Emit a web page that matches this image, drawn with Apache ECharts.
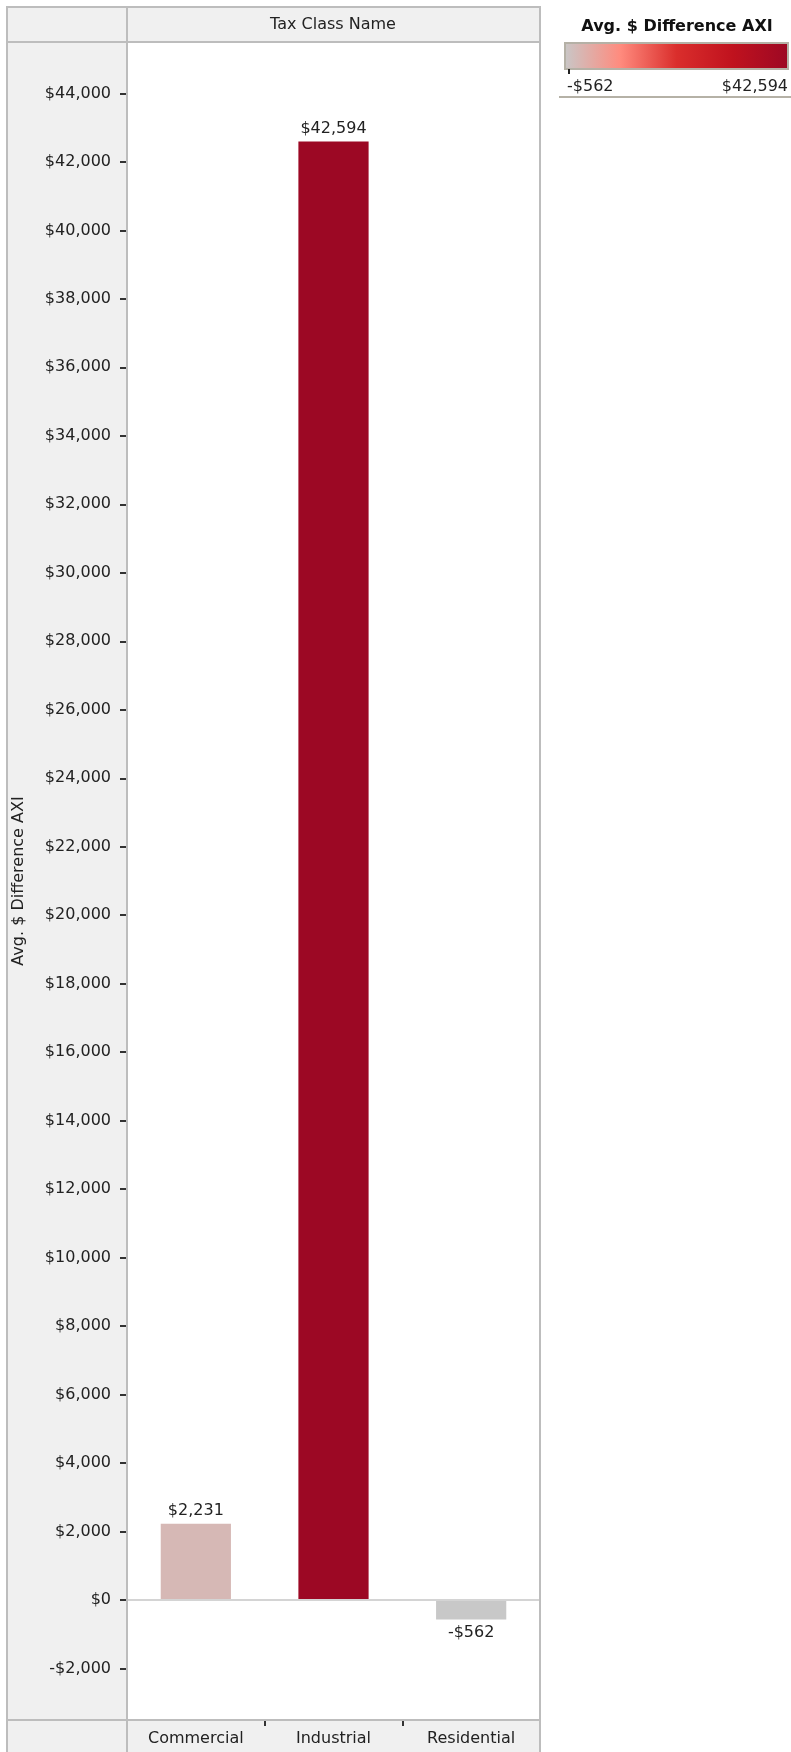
<!DOCTYPE html>
<html>
<head>
<meta charset="utf-8">
<script src="https://cdn.jsdelivr.net/npm/echarts@6/dist/echarts.min.js"></script>
<style>
  html, body { margin: 0; padding: 0; background: #fff; }
  #chart { width: 791px; height: 1752px; }
</style>
</head>
<body>
<div id="chart"></div>
<script>
var categories = ['Commercial', 'Industrial', 'Residential'];
var values = [2231, 42594, -562];
var yTicks = [-2000, 0, 2000, 4000, 6000, 8000, 10000, 12000, 14000, 16000, 18000, 20000,
    22000, 24000, 26000, 28000, 30000, 32000, 34000, 36000, 38000, 40000, 42000, 44000];
var colorStops = ['#c8c8c8', '#ff8b7e', '#da2e2c', '#c0121e', '#9c0824'];

var font = '"DejaVu Sans", sans-serif';
var textColor = '#222';
var borderColor = '#bdbdbd';

function money(v) {
    return (v < 0 ? '-' : '') + '$' + Math.abs(v).toLocaleString('en-US');
}

var minVal = Math.min.apply(null, values);
var maxVal = Math.max.apply(null, values);

// gradient for the colour legend, same stops as the visualMap
var gradStops = colorStops.map(function (c, i) {
    return { offset: i / (colorStops.length - 1), color: c };
});

// negative bars carry their label underneath
var barData = values.map(function (v) {
    return v < 0 ? { value: v, label: { position: 'bottom' } } : v;
});

var chart = echarts.init(document.getElementById('chart'));

var option = {
    animation: false,
    textStyle: { fontFamily: font },
    grid: { left: 127, right: 251, top: 42, bottom: 32 },
    visualMap: {
        show: false,
        type: 'continuous',
        seriesIndex: 0,
        dimension: 1,
        min: minVal,
        max: maxVal,
        inRange: { color: colorStops }
    },
    xAxis: {
        type: 'category',
        data: categories,
        axisLine: { onZero: false, lineStyle: { color: borderColor, width: 2 } },
        axisTick: { show: true, length: 6, lineStyle: { color: '#333', width: 2 } },
        axisLabel: { color: textColor, fontSize: 16, margin: 11 },
        splitLine: { show: false }
    },
    yAxis: {
        type: 'value',
        min: -3500,
        max: 45500,
        name: 'Avg. $ Difference AXI',
        nameLocation: 'middle',
        nameGap: 100,
        nameTextStyle: { color: textColor, fontSize: 16 },
        axisLine: { show: true, lineStyle: { color: borderColor, width: 2 } },
        axisTick: { show: true, length: 7, customValues: yTicks, lineStyle: { color: '#333', width: 2 } },
        axisLabel: { color: textColor, fontSize: 16, margin: 16, customValues: yTicks, formatter: money },
        splitLine: { show: false }
    },
    series: [{
        type: 'bar',
        data: barData,
        barWidth: '51%',
        label: {
            show: true,
            fontSize: 16,
            color: textColor,
            distance: 5,
            position: 'top',
            formatter: function (p) { return money(p.value); }
        },
        markLine: {
            silent: true,
            symbol: 'none',
            label: { show: false },
            lineStyle: { color: '#d4d4d4', width: 2, type: 'solid' },
            data: [{ yAxis: 0 }]
        }
    }],
    graphic: [
        // panel backgrounds
        { type: 'rect', z: -10, shape: { x: 7, y: 7, width: 533, height: 1760 },
          style: { fill: '#f0f0f0', stroke: borderColor, lineWidth: 2 } },
        { type: 'rect', z: -9, shape: { x: 127, y: 42, width: 413, height: 1678 },
          style: { fill: '#fff' } },
        { type: 'line', z: 50, shape: { x1: 7, y1: 42, x2: 540, y2: 42 },
          style: { stroke: borderColor, lineWidth: 2 } },
        { type: 'line', z: 50, shape: { x1: 127, y1: 7, x2: 127, y2: 1752 },
          style: { stroke: borderColor, lineWidth: 2 } },
        { type: 'line', z: 50, shape: { x1: 540, y1: 7, x2: 540, y2: 1752 },
          style: { stroke: borderColor, lineWidth: 2 } },
        { type: 'line', z: 50, shape: { x1: 7, y1: 1720, x2: 540, y2: 1720 },
          style: { stroke: borderColor, lineWidth: 2 } },
        { type: 'text', z: 50, x: 333, y: 25,
          style: { text: 'Tax Class Name', fill: textColor, font: '16px ' + font, align: 'center', verticalAlign: 'middle' } },
        // colour legend
        { type: 'text', z: 50, x: 677, y: 27,
          style: { text: 'Avg. $ Difference AXI', fill: '#111', font: 'bold 16px ' + font, align: 'center', verticalAlign: 'middle' } },
        { type: 'rect', z: 50, shape: { x: 565, y: 43, width: 223, height: 26 },
          style: {
              fill: { type: 'linear', x: 0, y: 0, x2: 1, y2: 0, colorStops: gradStops },
              stroke: '#b5b1a6', lineWidth: 2
          } },
        { type: 'line', z: 50, shape: { x1: 569, y1: 69, x2: 569, y2: 74 },
          style: { stroke: '#222', lineWidth: 2 } },
        { type: 'text', z: 50, x: 567, y: 87,
          style: { text: money(minVal), fill: textColor, font: '16px ' + font, align: 'left', verticalAlign: 'middle' } },
        { type: 'text', z: 50, x: 788, y: 87,
          style: { text: money(maxVal), fill: textColor, font: '16px ' + font, align: 'right', verticalAlign: 'middle' } },
        { type: 'line', z: 50, shape: { x1: 559, y1: 97, x2: 791, y2: 97 },
          style: { stroke: '#b5b1a6', lineWidth: 2 } }
    ]
};

chart.setOption(option);
</script>
</body>
</html>
